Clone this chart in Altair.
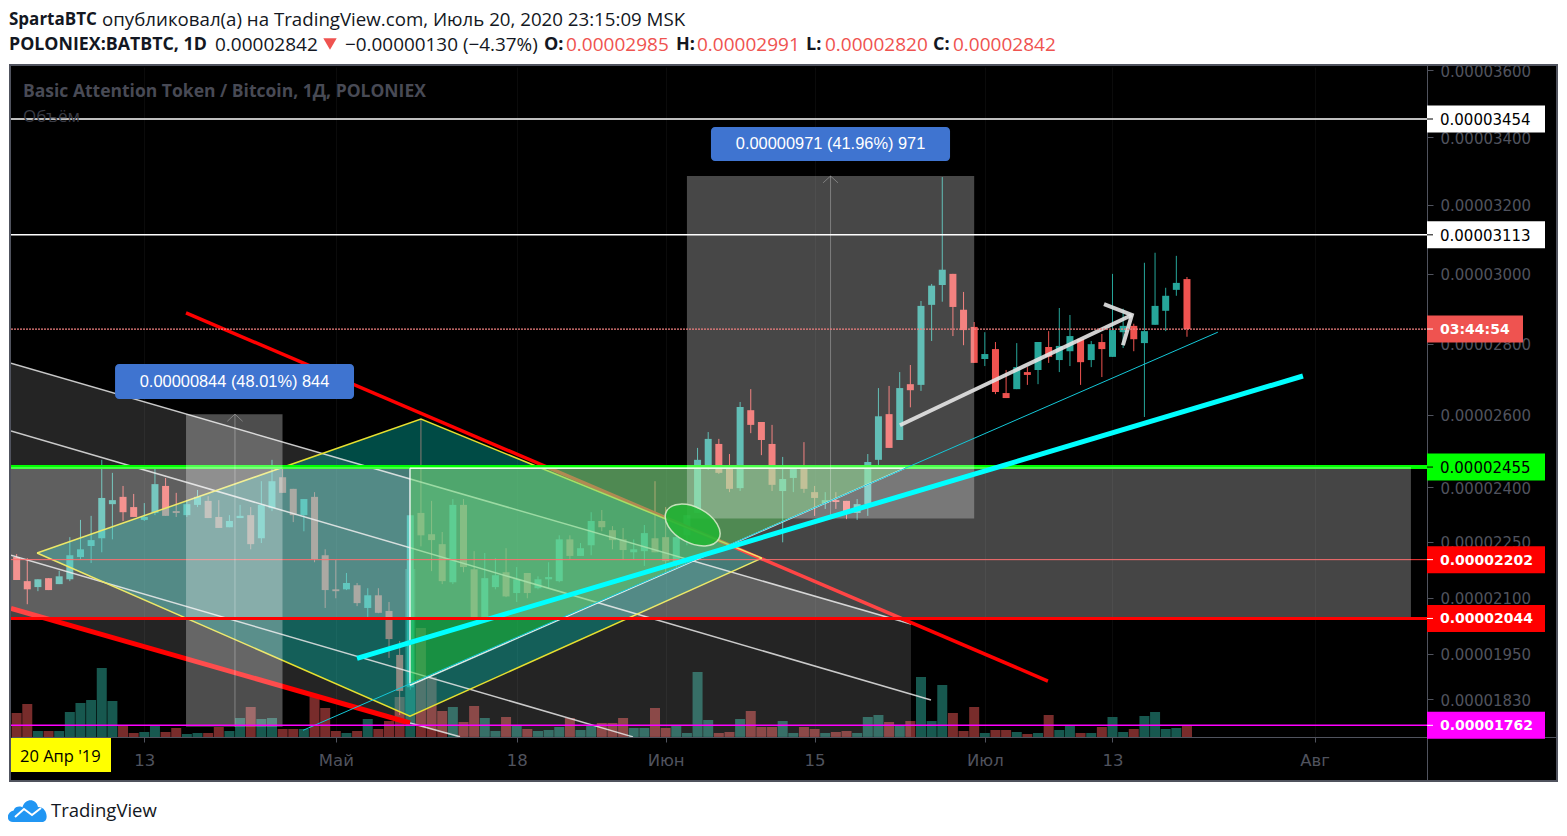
import altair as alt
import pandas as pd

# ---- candle data (prices in 1e-8 BTC), day number counted from 13 Apr -------------
days = list(range(-12, 99))
opens = [2209,2144,2128,2152,2136,2149,2209,2239,2260,2353,2373,2345,2310,2329,2403,2334,2323,2351,2362,2318,
         2290,2315,2323,2260,2342,2427,2395,2323,2373,2214,2122,2122,2133,2072,2106,2064,1947,1862,2329,2271,
         2244,2141,2351,2176,2040,2128,2168,2112,2166,2125,2149,2144,2257,2212,2241,2307,2282,2257,2222,2225,
         2260,2263,2187,2268,2329,2458,2519,2458,2397,2613,2580,2519,2389,2425,2450,2386,2356,2364,2362,2329,
         2353,2475,2602,2530,2686,2684,2911,2968,3000,2897,2848,2757,2785,2661,2672,2720,2726,2791,2754,2779,
         2814,2754,2805,2763,2833,2851,2802,2854,2894,2954,2985]
highs = [2217,2206,2149,2152,2172,2263,2310,2321,2475,2439,2403,2381,2356,2452,2425,2384,2364,2392,2375,2364,
         2323,2351,2345,2416,2475,2452,2395,2367,2386,2230,2201,2166,2139,2125,2125,2088,1984,2323,2588,2362,
         2277,2367,2367,2225,2220,2206,2233,2182,2166,2157,2195,2268,2268,2247,2331,2337,2293,2288,2257,2296,
         2416,2345,2277,2323,2508,2552,2533,2491,2636,2672,2580,2572,2483,2458,2524,2403,2386,2386,2362,2367,
         2491,2675,2681,2720,2740,2922,2971,3282,3000,2948,2862,2833,2805,2726,2802,2734,2805,2836,2902,2882,
         2814,2808,2828,3000,2900,2857,3032,3061,2960,3052,2991]
lows = [2147,2082,2117,2120,2136,2144,2203,2193,2222,2257,2307,2318,2307,2323,2321,2318,2318,2345,2315,2288,
        2290,2315,2230,2247,2334,2384,2304,2279,2195,2072,2098,2120,2077,2048,2058,1939,1789,1855,2238,2171,
        2136,2136,2168,2040,2040,2122,2101,2088,2098,2122,2125,2141,2203,2212,2214,2279,2230,2201,2203,2185,
        2222,2168,2182,2241,2329,2447,2436,2386,2389,2549,2488,2389,2249,2386,2384,2321,2340,2340,2312,2310,
        2321,2461,2508,2530,2621,2667,2808,2920,2822,2796,2746,2737,2658,2647,2672,2684,2686,2746,2720,2737,
        2684,2734,2706,2763,2788,2779,2594,2854,2836,2937,2820]
closes = [2147,2122,2149,2120,2157,2214,2230,2255,2370,2364,2331,2318,2318,2408,2321,2329,2353,2373,2315,2288,
          2307,2321,2244,2351,2416,2384,2323,2367,2203,2120,2117,2139,2085,2106,2059,1989,1852,2323,2268,2255,
          2144,2351,2182,2040,2152,2160,2103,2149,2112,2149,2155,2257,2212,2233,2307,2290,2255,2228,2230,2274,
          2222,2198,2263,2323,2475,2533,2439,2395,2622,2572,2530,2406,2422,2452,2395,2370,2364,2359,2334,2353,
          2469,2596,2508,2675,2669,2908,2966,3012,2905,2839,2746,2771,2664,2647,2734,2712,2805,2763,2794,2822,
          2748,2799,2785,2839,2851,2813,2836,2908,2937,2974,2842]
volumes = [24,33,6,6,6,25,34,37,69,36,11,4,5,12,5,9,3,4,4,10,6,19,30,18,19,8,8,8,40,29,6,4,6,18,8,16,40,168,109,60,
           26,30,15,31,19,6,20,12,8,6,7,10,19,7,11,14,14,19,9,9,29,9,12,4,65,17,4,5,18,26,10,10,16,4,10,8,4,5,6,4,
           20,22,15,12,16,60,16,52,24,6,30,4,7,7,5,3,4,22,7,12,4,4,10,20,5,8,21,25,8,9,11]

# ---- axis values --------------------------------------------------------------------
price_ticks = [3600, 3400, 3200, 3000, 2800, 2600, 2400, 2250, 2100, 1950, 1830]
day_ticks = [0, 18, 35, 49, 63, 79, 91, 110]
day_labels = ["13", "Май", "18", "Июн", "15", "Июл", "13", "Авг"]

# ---- drawings (day, price) ----------------------------------------------------------
level_white = [3454, 3113]
level_green = 2455
level_red_thin = 2202
level_red = 2044
level_magenta = 1762
last_price = 2842

channel_d = [-12.53, 24.97, 29.67, 72.06]
channel_top = [2745, 2423, 2383, 2029]
channel_bot = [2071, 1768, 1732, 1732]
channel_line_1 = ([-12.53, 72.06], [2745, 2029])
channel_line_2 = ([-12.53, 73.94], [2555, 1828])
channel_line_3 = ([-12.53, 45.93], [2214, 1732])
channel_line_4 = ([24.97, 29.67], [1768, 1732])
red_low = ([-12.53, 24.97], [2071, 1768])
red_high = ([3.92, 84.93], [2888, 1878])

diamond_d = [-10.08, 24.97, 26.0, 58.05]
diamond_top = [2220, 2577, 2588, 2206]
diamond_bot = [2220, 1786, 1799, 2206]

tri_d = [24.97, 71.5]
tri_low = [1867, 2452]
tri_top = [2452, 2452]

cyan_thick = ([19.99, 108.9], [1938, 2709])
cyan_thin = ([14.92, 100.9], [1749, 2833])
arrow_shaft = ([71.02, 92.82], [2571, 2882])
arrow_head = ([90.2, 92.82, 91.98], [2913, 2882, 2796])

W, H = 1416, 670
DOM_X = [-12.53, 120.56]
DOM_Y = [1731.6, 3610]
one = pd.DataFrame({"a": [0]})
FONT = "Open Sans"
AXF = "DejaVu Sans"
AXC = "#50535e"
LINE = "#50535e"

sx = alt.Scale(domain=DOM_X, nice=False, zero=False, padding=0)
sy = alt.Scale(type="symlog", constant=10000, domain=DOM_Y, nice=False, zero=False)
X = alt.X("d:Q", scale=sx, axis=None, title=None)
Y = alt.Y("p:Q", scale=sy, axis=None, title=None)
Y2 = alt.Y2("p2:Q")
X2 = alt.X2("d2:Q")

df = pd.DataFrame({"d": days, "o": opens, "h": highs, "l": lows, "c": closes, "v": volumes})
df["up"] = df.c >= df.o
up = df[df.up]
dn = df[~df.up]

def seg(pts, color, width, opacity=1.0):
    data = pd.DataFrame({"d": pts[0], "p": pts[1], "i": list(range(len(pts[0])))})
    return alt.Chart(data).mark_line(color=color, strokeWidth=width, opacity=opacity, clip=True,
                                     strokeCap="butt").encode(x=X, y=Y, order=alt.Order("i:Q"))

def hline(price, color, width, x0=0, x1=W, dash=None):
    kw = {"strokeDash": dash} if dash else {}
    return alt.Chart(pd.DataFrame({"p": [price]})).mark_rule(color=color, strokeWidth=width, **kw).encode(
        y=Y, x=alt.value(x0), x2=alt.value(x1))

def box(d0, d1, p0, p1, color, opacity=1.0, **kw):
    data = pd.DataFrame({"d": [d0], "d2": [d1], "p": [p0], "p2": [p1]})
    return alt.Chart(data).mark_rect(color=color, opacity=opacity, clip=True, **kw).encode(x=X, x2=X2, y=Y, y2=Y2)

def area(ds, tops, bots, color, opacity):
    data = pd.DataFrame({"d": ds, "p": tops, "p2": bots})
    return alt.Chart(data).mark_area(color=color, opacity=opacity, clip=True, interpolate="linear").encode(x=X, y=Y, y2=Y2)

def px(x0, x1, y0, y1, color, **kw):
    return alt.Chart(one).mark_rect(color=color, **kw).encode(
        x=alt.value(x0 - 11), x2=alt.value(x1 - 11), y=alt.value(y0 - 67), y2=alt.value(y1 - 67))

def txt(s, x, y, size, color, bold=False, font=FONT, align="left"):
    return alt.Chart(one).mark_text(text=s, fontSize=size, color=color, font=font, align=align, baseline="middle",
                                    fontWeight="bold" if bold else "normal").encode(
        x=alt.value(x - 11), y=alt.value(y - 67))

def tag(price, text, fill, fg, bold, x1=1545):
    return [
        hline(price, fill, 27, W, x1 - 11),
        hline(price, fg, 1, W, W + 6),
        alt.Chart(pd.DataFrame({"p": [price]})).mark_text(text=text, fontSize=14 if bold else 15, color=fg, font=AXF,
            align="left", baseline="middle", dy=1, fontWeight="bold" if bold else "normal").encode(
            x=alt.value(1440 - 11), y=Y),
    ]

# ---- axes ---------------------------------------------------------------------------
x_axis = alt.Axis(values=day_ticks, title=None, grid=True, gridColor="#0b0b0b", labelFont=AXF, labelFontSize=16.5,
                  labelColor=AXC, tickColor=LINE, tickSize=5, domainColor=LINE, labelPadding=10,
                  labelOverlap=False, labelFlush=False,
                  labelExpr="{'0':'13','18':'Май','35':'18','49':'Июн','63':'15','79':'Июл','91':'13','110':'Авг'}[datum.value]")
y_axis = alt.Axis(values=price_ticks, title=None, orient="right", grid=False, labelFont=AXF, labelFontSize=15,
                  labelColor=AXC, tickColor=LINE, tickSize=6, domainColor=LINE, labelPadding=7, labelAlign="left",
                  labelOffset=1, labelOverlap=False, labelFlush=False, labelExpr="format(datum.value/1e8,'.8f')")

def wicks(data, color, axis=None):
    return alt.Chart(data).mark_rule(color=color, strokeWidth=1, clip=True).encode(
        x=X,
        y=alt.Y("l:Q", scale=sy, axis=axis, title=None),
        y2=alt.Y2("h:Q"))

def bodies(data, color):
    return alt.Chart(data).mark_bar(color=color, size=7, orient="vertical", clip=True).encode(
        x=X, y=alt.Y("o:Q", scale=sy, axis=None, title=None), y2=alt.Y2("c:Q"))

vol_y = alt.Y("v:Q", scale=alt.Scale(domain=[0, H], nice=False, zero=True), axis=None, title=None)
vol_up = alt.Chart(up).mark_bar(color="#17584f", size=10, orient="vertical", clip=True).encode(
    x=alt.X("d:Q", scale=sx, axis=x_axis, title=None), y=vol_y)
vol_dn = alt.Chart(dn).mark_bar(color="#782c2b", size=10, orient="vertical", clip=True).encode(x=X, y=vol_y)

ellipse = alt.Chart(pd.DataFrame({"d": [51.54], "p": [2296]})).mark_point(
    shape="M-1,0A1,0.6,0,1,1,1,0A1,0.6,0,1,1,-1,0Z", size=3500, angle=28, filled=True, fill="#22b534",
    stroke="#d5ecc8", strokeWidth=1.5, opacity=0.88, clip=True).encode(x=X, y=Y)

price_layers = [
    wicks(up, "#26a69a", y_axis), wicks(dn, "#ef5350"), bodies(up, "#26a69a"), bodies(dn, "#ef5350"),
    area(channel_d, channel_top, channel_bot, "#ffffff", 0.14),
    area(diamond_d, diamond_top, diamond_bot, "#00b3a4", 0.42),
    seg(channel_line_1, "#e8e8e8", 1.5, 0.85), seg(channel_line_2, "#e8e8e8", 1.5, 0.85),
    seg(channel_line_3, "#e8e8e8", 1.5, 0.85), seg(channel_line_4, "#e8e8e8", 1.5, 0.85),
    seg(red_low, "#ff0000", 5), seg(red_high, "#ff0000", 3.5),
    seg(([-10.08, 26.0, 58.05], [2220, 2588, 2206]), "#e6e030", 1.5),
    seg(([-10.08, 24.97, 58.05], [2220, 1786, 2206]), "#e6e030", 1.5),
    area(tri_d, tri_top, tri_low, "#1ec828", 0.47),
    hline(level_green, "#00ff00", 4),
    hline(level_red_thin, "#ff3a3a", 1),
    box(-12.53, 119.05, level_green, level_red, "#ffffff", 0.27),
    box(3.92, 12.99, 2602, 1758, "#ffffff", 0.30),
    box(51.0, 78.0, 3285, 2314, "#ffffff", 0.28),
    ellipse,
    seg(([8.52, 8.52], [2602, 1758]), "#ffffff", 1, 0.3),
    seg(([7.8, 8.52, 9.24], [2582, 2602, 2582]), "#ffffff", 1, 0.3),
    seg(([64.5, 64.5], [3285, 2314]), "#ffffff", 1, 0.3),
    seg(([63.8, 64.5, 65.2], [3265, 3285, 3265]), "#ffffff", 1, 0.3),
    seg(([24.97, 24.97], [2452, 1867]), "#ffffff", 1.5, 0.85),
    seg((tri_d, tri_top), "#ffffff", 1.5, 0.85),
    seg((tri_d, tri_low), "#ffffff", 1.5, 0.85),
    seg(cyan_thin, "#14c8d8", 1),
    seg(cyan_thick, "#00ffff", 5),
    seg(arrow_shaft, "#e6e6e6", 4, 0.9),
    seg(arrow_head, "#e6e6e6", 4, 0.9),
    hline(level_white[0], "#ffffff", 1.5), hline(level_white[1], "#ffffff", 1.5),
    hline(level_red, "#ff0000", 3),
    hline(level_magenta, "#ff00ff", 1.5),
    hline(last_price, "#f08080", 1.2, dash=[2, 1]),
    # measure labels
    box(-2.75, 19.71, 2743, 2644, "#3f74d0", 1.0, cornerRadius=4),
    box(53.26, 75.73, 3430, 3329, "#3f74d0", 1.0, cornerRadius=4),
    alt.Chart(pd.DataFrame({"d": [8.48], "p": [2693]})).mark_text(text="0.00000844 (48.01%) 844", fontSize=16.4,
        color="#ffffff", font="Liberation Sans", baseline="middle").encode(x=X, y=Y),
    alt.Chart(pd.DataFrame({"d": [64.5], "p": [3379]})).mark_text(text="0.00000971 (41.96%) 971", fontSize=16.4,
        color="#ffffff", font="Liberation Sans", baseline="middle").encode(x=X, y=Y),
    # white page around the panel
    px(8, 1559, 8, 65, "#ffffff"), px(8, 1559, 781, 828, "#ffffff"),
    px(8, 10, 8, 828, "#ffffff"), px(1557, 1559, 8, 828, "#ffffff"),
    px(10, 1557, 65, 781, "#000000", fillOpacity=0, stroke="#50535e", strokeWidth=2),
    px(1427, 1428, 66, 781, LINE),
    px(1427, 1556, 737, 738, LINE),
    px(11, 111, 738, 772, "#ffff00"),
    txt("20 Апр '19", 20, 757, 16.5, "#000000"),
    txt("Basic Attention Token / Bitcoin, 1Д, POLONIEX", 23, 92, 17.5, "#484a55", True),
    txt("Объём", 23, 116.5, 17, "#3a3c46"),
    # header
    txt("SpartaBTC", 9, 20, 17, "#131722", True),
    txt("опубликовал(а) на TradingView.com, Июль 20, 2020 23:15:09 MSK", 102, 20, 18.7, "#131722"),
    txt("POLONIEX:BATBTC, 1D", 9, 45, 17.8, "#131722", True),
    txt("0.00002842", 215, 45, 19, "#131722"),
    alt.Chart(one).mark_point(shape="triangle-down", size=180, filled=True, color="#ef5350", opacity=1).encode(
        x=alt.value(330 - 11), y=alt.value(44 - 67)),
    txt("−0.00000130 (−4.37%)", 345, 45, 18.9, "#131722"),
    txt("O:", 544, 45, 18, "#131722", True), txt("0.00002985", 566, 45, 19, "#ef5350"),
    txt("H:", 676, 45, 18, "#131722", True), txt("0.00002991", 697, 45, 19, "#ef5350"),
    txt("L:", 806, 45, 18, "#131722", True), txt("0.00002820", 825, 45, 19, "#ef5350"),
    txt("C:", 933, 45, 18, "#131722", True), txt("0.00002842", 953, 45, 19, "#ef5350"),
    # logo
    alt.Chart(one).mark_point(shape="M-0.75,0.6C-1.1,0.6,-1.1,0.1,-0.72,0.02C-0.65,-0.2,-0.35,-0.2,-0.28,-0.12"
                                    "C-0.15,-0.6,0.4,-0.6,0.5,-0.15C0.95,-0.2,1.1,0.6,0.7,0.6Z",
                              size=1600, filled=True, color="#2196f3", opacity=1).encode(
        x=alt.value(28 - 11), y=alt.value(810 - 67)),
    alt.Chart(one).mark_point(shape="M-0.65,0.35L-0.2,-0.05L0.2,0.25L0.65,-0.1", size=1600, filled=False,
                              color="#ffffff", strokeWidth=2, opacity=1).encode(
        x=alt.value(28 - 11), y=alt.value(810 - 67)),
    txt("TradingView", 51, 811, 18.5, "#131722"),
]
for args in [
    (level_white[0], "0.00003454", "#ffffff", "#000000", False),
    (level_white[1], "0.00003113", "#ffffff", "#000000", False),
    (level_green, "0.00002455", "#00ff00", "#000000", False),
    (level_red_thin, "0.00002202", "#ff0000", "#ffffff", True),
    (level_red, "0.00002044", "#ff0000", "#ffffff", True),
    (level_magenta, "0.00001762", "#ff00ff", "#ffffff", True),
    (last_price, "03:44:54", "#ef5350", "#ffffff", True, 1523),
]:
    price_layers.extend(tag(*args))

chart = alt.layer(vol_up, vol_dn, *price_layers).resolve_scale(y="independent").resolve_axis(x="independent").properties(
    width=W, height=H,
    autosize=alt.AutoSizeParams(type="none"),
    padding={"left": 3, "top": 59, "right": 132, "bottom": 91},
    background="#000000",
).configure_view(stroke=None)

chart.save("out.html", embed_options={"renderer": "svg", "actions": False})
